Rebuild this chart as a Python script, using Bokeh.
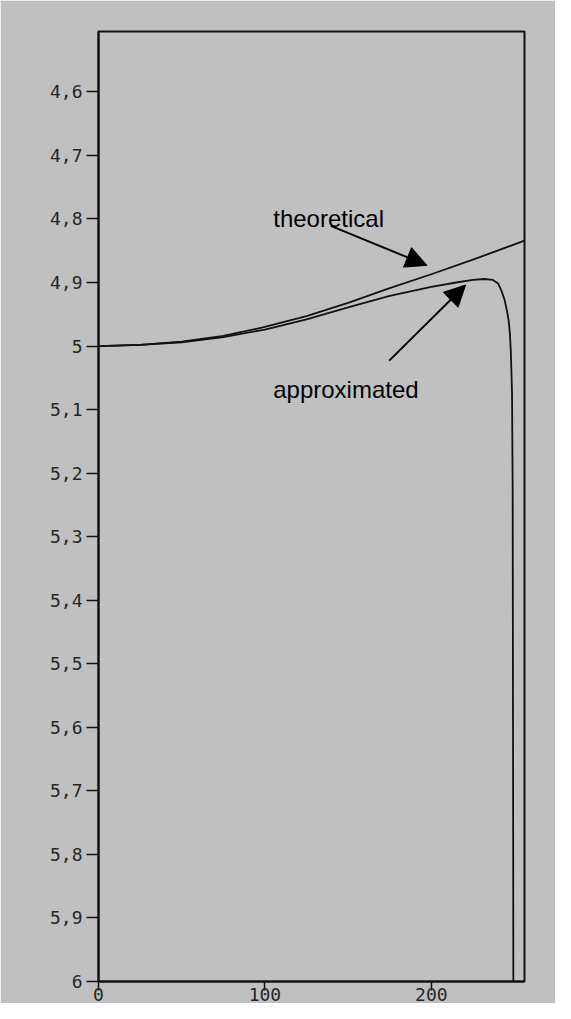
from bokeh.plotting import figure
from bokeh.models import Range1d, FixedTicker, Arrow, NormalHead, Label
from bokeh.embed import file_html
from bokeh.resources import INLINE

# ---- data ----
theo_x = [0, 25, 50, 75, 100, 125, 150, 175, 200, 225, 250, 256]
theo_y = [5.000, 4.998, 4.993, 4.984, 4.970, 4.953, 4.932, 4.909, 4.887, 4.864, 4.840, 4.834]

appr_x = [0, 25, 50, 75, 100, 125, 150, 175, 200, 215, 225, 232, 237, 240, 242, 244, 245.5,
          246.5, 247.3, 247.8, 248.5, 248.9, 249.3]
appr_y = [5.000, 4.998, 4.994, 4.986, 4.974, 4.958, 4.939, 4.921, 4.907, 4.900, 4.896, 4.8945,
          4.896, 4.901, 4.912, 4.927, 4.945, 4.960, 4.983, 5.010, 5.073, 5.23, 6.0]

x_ticks = [0, 100, 200]
x_tick_labels = ["0", "100", "200"]
y_ticks = [4.6, 4.7, 4.8, 4.9, 5.0, 5.1, 5.2, 5.3, 5.4, 5.5, 5.6, 5.7, 5.8, 5.9, 6.0]
y_tick_labels = ["4,6", "4,7", "4,8", "4,9", "5", "5,1", "5,2", "5,3", "5,4", "5,5",
                 "5,6", "5,7", "5,8", "5,9", "6"]

label_theo = "theoretical"
label_appr = "approximated"
# annotation anchors (data coordinates)
theo_text_xy = (105.0, 4.799)
appr_text_xy = (105.0, 5.069)
theo_arrow = (139.6, 4.811, 197.4, 4.873)
appr_arrow = (174.7, 5.023, 220.6, 4.904)

BG = "#c0c0c0"
INK = "#111111"

p = figure(width=555, height=1003, output_backend="svg", toolbar_location=None,
           x_range=Range1d(0, 256), y_range=Range1d(6.0, 4.505),
           min_border_left=98, min_border_top=31, min_border_right=31, min_border_bottom=0)
p.background_fill_color = BG
p.border_fill_color = BG
p.outline_line_color = INK
p.outline_line_width = 2
p.grid.visible = False

for ax in (p.xaxis[0], p.yaxis[0]):
    ax.axis_line_color = INK
    ax.axis_line_width = 2
    ax.major_tick_line_color = INK
    ax.major_tick_line_width = 1.5
    ax.major_tick_in = 0
    ax.minor_tick_line_color = None
    ax.major_label_text_font = "DejaVu Sans Mono"
    ax.major_label_text_font_size = "18px"
    ax.major_label_text_color = "#262626"

p.xaxis.ticker = FixedTicker(ticks=x_ticks)
p.xaxis.major_label_overrides = {t: l for t, l in zip(x_ticks, x_tick_labels)}
p.xaxis.major_tick_out = 9
p.xaxis.major_label_standoff = -3

p.yaxis.ticker = FixedTicker(ticks=y_ticks)
p.yaxis.major_label_overrides = {t: l for t, l in zip(y_ticks, y_tick_labels)}
p.yaxis.major_tick_out = 12
p.yaxis.major_label_standoff = 4

p.line(theo_x, theo_y, line_color=INK, line_width=1.8)
p.line(appr_x, appr_y, line_color=INK, line_width=1.8)

for (x0, y0, x1, y1) in (theo_arrow, appr_arrow):
    p.add_layout(Arrow(x_start=x0, y_start=y0, x_end=x1, y_end=y1,
                       line_color="black", line_width=2,
                       end=NormalHead(size=21, fill_color="black", line_color="black")))

p.add_layout(Label(x=theo_text_xy[0], y=theo_text_xy[1], text=label_theo,
                   text_font="Liberation Sans", text_font_size="24px",
                   text_color="black", text_baseline="alphabetic"))
p.add_layout(Label(x=appr_text_xy[0], y=appr_text_xy[1], text=label_appr,
                   text_font="Liberation Sans", text_font_size="24px",
                   text_color="black", text_baseline="alphabetic"))

open("out.html", "w").write(file_html(p, INLINE))
